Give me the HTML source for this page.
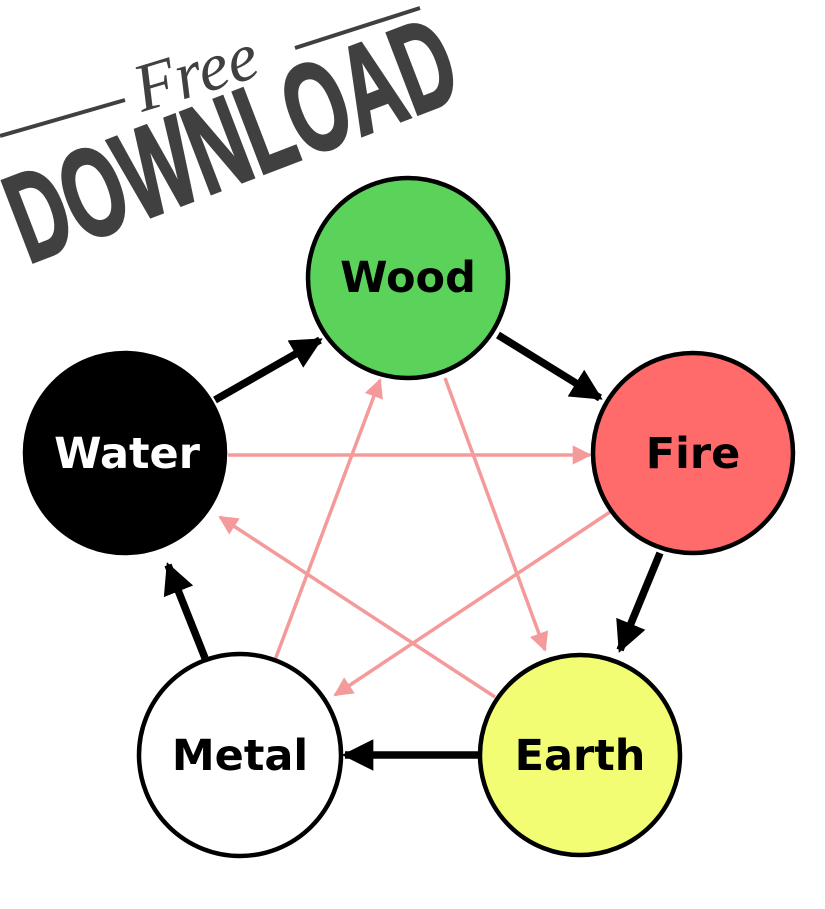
<!DOCTYPE html>
<html><head><meta charset="utf-8"><style>
html,body{margin:0;padding:0;background:#fff;width:825px;height:909px;overflow:hidden}
</style></head><body>
<svg width="825" height="909" viewBox="0 0 825 909" xmlns="http://www.w3.org/2000/svg">
<defs>
<marker id="bk" viewBox="0 0 10 10" refX="9" refY="5" markerWidth="4.2" markerHeight="4.2" markerUnits="strokeWidth" orient="auto"><path d="M0,0 L10,5 L0,10 z" fill="#000"/></marker>
<marker id="pk" viewBox="0 0 10 10" refX="9" refY="5" markerWidth="7" markerHeight="5.5" markerUnits="strokeWidth" orient="auto"><path d="M0,0 L10,5 L0,10 z" fill="#f59a9a"/></marker>
</defs>
<g stroke="#404040">
<line x1="0" y1="136" x2="125" y2="100" stroke-width="4"/>
<line x1="295" y1="48" x2="420" y2="8" stroke-width="4"/>
</g>
<text x="0" y="0" transform="translate(142,112) rotate(-17)" font-family="Liberation Serif, serif" font-style="italic" font-size="68" fill="#404040">Free</text>
<text x="0" y="0" transform="translate(28,264) rotate(-21) scale(0.62,1)" font-family="Liberation Sans, sans-serif" font-weight="bold" font-size="126" fill="#404040" stroke="#404040" stroke-width="3">DOWNLOAD</text>
<g stroke="#f59a9a" stroke-width="3.5" marker-end="url(#pk)">
<line x1="228" y1="455" x2="590" y2="455"/>
<line x1="610" y1="512" x2="335" y2="695"/>
<line x1="275" y1="660" x2="380" y2="380"/>
<line x1="445" y1="378" x2="545" y2="650"/>
<line x1="495" y1="697" x2="220" y2="517"/>
</g>
<g stroke="#000" stroke-width="7.5" marker-end="url(#bk)">
<line x1="215" y1="400" x2="320" y2="340"/>
<line x1="498" y1="335" x2="600" y2="398"/>
<line x1="660" y1="553" x2="620" y2="650"/>
<line x1="478" y1="755" x2="345" y2="755"/>
<line x1="205" y1="658" x2="168" y2="565"/>
</g>
<g stroke="#000" stroke-width="4.5">
<circle cx="408" cy="278" r="100" fill="#5bd35b"/>
<circle cx="693" cy="453" r="100" fill="#ff6b6b"/>
<circle cx="580" cy="755" r="100" fill="#f2fd74"/>
<circle cx="240" cy="755" r="101" fill="#fff"/>
<circle cx="125" cy="453" r="100" fill="#000"/>
</g>
<g font-family="DejaVu Sans, Liberation Sans, sans-serif" font-weight="bold" font-size="43" text-anchor="middle">
<text x="408" y="292">Wood</text>
<text x="693" y="468">Fire</text>
<text x="580" y="770">Earth</text>
<text x="240" y="770">Metal</text>
<text x="127" y="468" fill="#fff">Water</text>
</g>
</svg>
</body></html>
